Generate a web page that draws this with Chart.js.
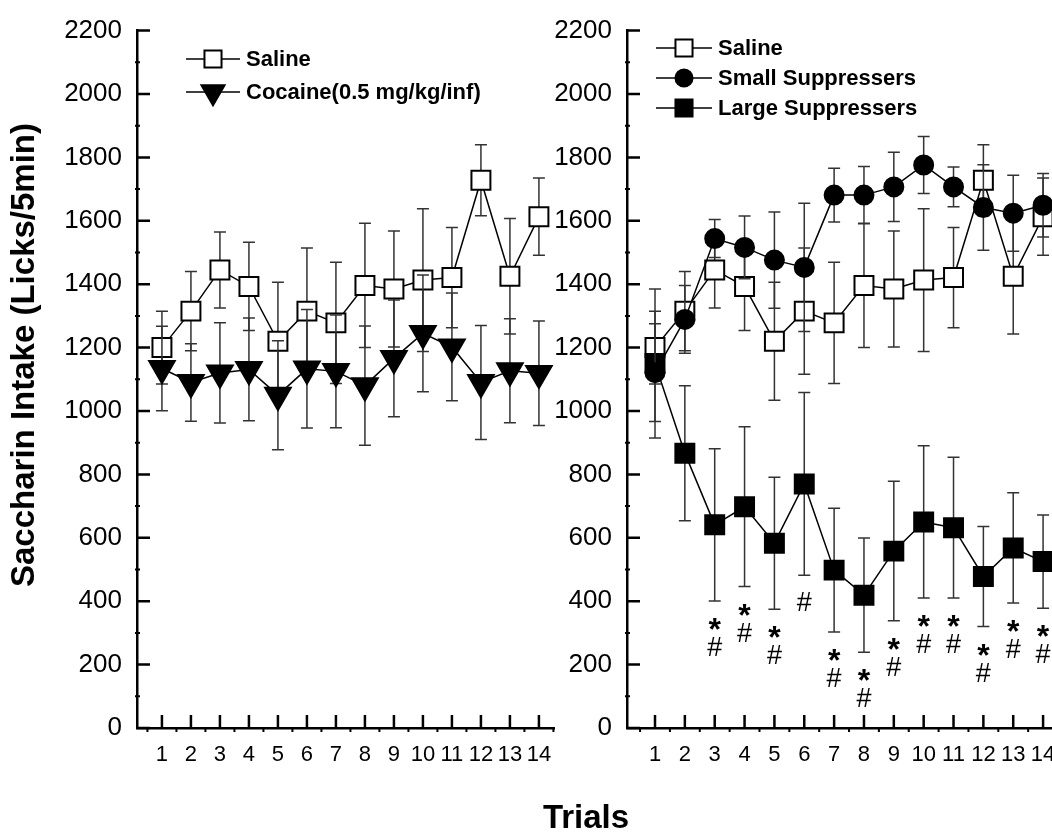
<!DOCTYPE html>
<html>
<head>
<meta charset="utf-8">
<script src="https://cdn.jsdelivr.net/npm/chart.js@4.4.0/dist/chart.umd.min.js"></script>
<style>
  html, body { margin:0; padding:0; background:#fff; width:1052px; height:832px; overflow:hidden; position:relative; font-family:"Liberation Sans", Arial, sans-serif; }
  .panel { position:absolute; top:0; }
  #left { left:0; }
  #right { left:490px; }
  #ytitle { position:absolute; left:23px; top:355px; transform:translate(-50%,-50%) rotate(-90deg); font-weight:bold; font-size:33px; white-space:nowrap; }
  #xtitle { position:absolute; left:586px; top:817px; transform:translate(-50%,-50%); font-weight:bold; font-size:33px; white-space:nowrap; }
</style>
</head>
<body>
<canvas id="left" class="panel" width="570" height="832"></canvas>
<canvas id="right" class="panel" width="590" height="832"></canvas>
<div id="ytitle">Saccharin Intake (Licks/5min)</div>
<div id="xtitle">Trials</div>
<script>
const trials = [1, 2, 3, 4, 5, 6, 7, 8, 9, 10, 11, 12, 13, 14];
const yTicks = [0, 200, 400, 600, 800, 1000, 1200, 1400, 1600, 1800, 2000, 2200];

const salineMean = [1200, 1315, 1445, 1393, 1220, 1315, 1278, 1396, 1385, 1413, 1421, 1728, 1425, 1613];
const salineSem = [115, 125, 120, 139, 186, 199, 191, 196, 183, 225, 158, 112, 182, 122];
const cocaineMean = [1134, 1090, 1120, 1131, 1050, 1133, 1125, 1080, 1166, 1245, 1202, 1090, 1127, 1119];
const cocaineSem = [133, 122, 158, 162, 172, 187, 178, 188, 184, 184, 170, 180, 164, 165];

const smallMean = [1121, 1289, 1544, 1516, 1476, 1453, 1681, 1681, 1707, 1776, 1707, 1642, 1624, 1649];
const smallSem = [154, 107, 60, 99, 152, 202, 85, 90, 109, 90, 63, 135, 120, 100];
const largeMean = [1150, 867, 641, 698, 583, 770, 498, 419, 558, 650, 632, 478, 568, 525];
const largeSem = [235, 213, 240, 252, 208, 288, 195, 180, 220, 240, 222, 158, 174, 147];
// significance marks under the large suppressers
const sigMarks = ['', '', '*#', '*#', '*#', '#', '*#', '*#', '*#', '*#', '*#', '*#', '*#', '*#'];

const FONT = 'Liberation Sans';

function pts(vals) {
  return trials.map((t, i) => ({x: t, y: vals[i]}));
}

// error bars, drawn just before each dataset so markers sit on top
const errorBars = {
  id: 'errorBars',
  beforeDatasetDraw(chart, args) {
    const ds = chart.data.datasets[args.index];
    if (!ds.sem) return;
    const {x, y} = chart.scales;
    const ctx = chart.ctx;
    ctx.save();
    ctx.strokeStyle = '#333';
    ctx.lineWidth = 1.5;
    ds.data.forEach((p, i) => {
      const px = x.getPixelForValue(p.x);
      const top = y.getPixelForValue(p.y + ds.sem[i]);
      const bot = y.getPixelForValue(p.y - ds.sem[i]);
      ctx.beginPath();
      ctx.moveTo(px, top); ctx.lineTo(px, bot);
      ctx.moveTo(px - 6, top); ctx.lineTo(px + 6, top);
      ctx.moveTo(px - 6, bot); ctx.lineTo(px + 6, bot);
      ctx.stroke();
    });
    ctx.restore();
  }
};

// tick marks pointing into the plot, plus minor ticks
const innerTicks = {
  id: 'innerTicks',
  afterDraw(chart) {
    const {x, y} = chart.scales;
    const area = chart.chartArea;
    const ctx = chart.ctx;
    ctx.save();
    ctx.strokeStyle = '#000';
    ctx.lineWidth = 2.5;
    ctx.beginPath();
    x.ticks.forEach(t => {
      const px = x.getPixelForValue(t.value);
      ctx.moveTo(px, area.bottom); ctx.lineTo(px, area.bottom - 13);
    });
    y.ticks.forEach(t => {
      const py = y.getPixelForValue(t.value);
      ctx.moveTo(area.left, py); ctx.lineTo(area.left + 13, py);
    });
    ctx.stroke();
    ctx.lineWidth = 2;
    ctx.beginPath();
    x.ticks.forEach(t => {
      [t.value - 0.5, t.value + 0.5].forEach(v => {
        if (v < x.min || v > x.max) return;
        const px = x.getPixelForValue(v);
        ctx.moveTo(px, area.bottom); ctx.lineTo(px, area.bottom + 4);
      });
    });
    y.ticks.forEach(t => {
      const v = t.value + 100;
      if (v > y.max) return;
      const py = y.getPixelForValue(v);
      ctx.moveTo(area.left - 2, py); ctx.lineTo(area.left + 3, py);
    });
    ctx.stroke();
    ctx.restore();
  }
};

// legend drawn at a fixed spot inside the plot
const sideLegend = {
  id: 'sideLegend',
  afterDraw(chart, args, opts) {
    if (opts.x === undefined) return;
    const ctx = chart.ctx;
    ctx.save();
    chart.data.datasets.forEach((ds, i) => {
      const yy = opts.y + i * opts.dy;
      ctx.strokeStyle = '#000';
      ctx.lineWidth = 1.5;
      ctx.beginPath();
      ctx.moveTo(opts.x, yy); ctx.lineTo(opts.x + opts.len, yy);
      ctx.stroke();
      ctx.fillStyle = ds.pointBackgroundColor;
      ctx.lineWidth = ds.pointBorderWidth;
      Chart.helpers.drawPoint(ctx, {
        pointStyle: ds.pointStyle, rotation: ds.pointRotation || 0,
        radius: ds.pointRadius * 0.9, borderWidth: ds.pointBorderWidth
      }, opts.x + opts.len / 2, yy);
      ctx.fillStyle = '#000';
      ctx.font = 'bold 22px ' + FONT;
      ctx.textBaseline = 'middle';
      ctx.textAlign = 'left';
      ctx.fillText(ds.label, opts.x + opts.len + 6, yy + 1);
    });
    ctx.restore();
  }
};

function scalesFor(xmin, xmax) {
  return {
    x: {
      type: 'linear', min: xmin, max: xmax,
      afterBuildTicks: s => { s.ticks = trials.map(v => ({value: v})); },
      afterFit: s => { s.height = 104; },
      grid: {display: false, drawTicks: false},
      border: {display: true, color: '#000', width: 2.5},
      ticks: {color: '#000', font: {family: FONT, size: 22}, padding: 14, maxRotation: 0, autoSkip: false,
        callback: v => String(v)}
    },
    y: {
      min: 0, max: 2200,
      afterBuildTicks: s => { s.ticks = yTicks.map(v => ({value: v})); },
      afterFit: s => { s.width = 137; },
      grid: {display: false, drawTicks: false},
      border: {display: true, color: '#000', width: 2.5},
      ticks: {color: '#000', font: {family: FONT, size: 26}, padding: 15, callback: v => String(v)}
    }
  };
}

function lineSet(label, vals, sem, style, fill, radius, order, rotation) {
  return {
    label: label,
    data: pts(vals),
    sem: sem,
    borderColor: '#000',
    borderWidth: 1.5,
    pointStyle: style,
    pointRotation: rotation || 0,
    pointRadius: radius,
    pointBackgroundColor: fill,
    pointBorderColor: '#000',
    pointBorderWidth: 2,
    order: order,
    clip: false,
    tension: 0
  };
}

new Chart(document.getElementById('left'), {
  type: 'line',
  data: {
    datasets: [
      lineSet('Saline', salineMean, salineSem, 'rect', '#fff', 13.4, 2),
      lineSet('Cocaine(0.5 mg/kg/inf)', cocaineMean, cocaineSem, 'triangle', '#000', 14.8, 1, 180)
    ]
  },
  options: {
    responsive: false,
    animation: false,
    layout: {padding: {top: 27, right: 16, bottom: 0, left: 0}, autoPadding: false},
    scales: scalesFor(0.14, 14.52),
    plugins: {
      legend: {display: false},
      tooltip: {enabled: false},
      sideLegend: {x: 186, y: 59, dy: 33, len: 54}
    }
  },
  plugins: [errorBars, innerTicks, sideLegend]
});

const sigPlugin = {
  id: 'sigPlugin',
  afterDatasetsDraw(chart) {
    const ds = chart.data.datasets[2];
    const {x, y} = chart.scales;
    const ctx = chart.ctx;
    ctx.save();
    ctx.fillStyle = '#000';
    ctx.textAlign = 'center';
    ctx.textBaseline = 'alphabetic';
    sigMarks.forEach((m, i) => {
      if (!m) return;
      const px = x.getPixelForValue(ds.data[i].x);
      let py = y.getPixelForValue(ds.data[i].y - ds.sem[i]) + (m[0] === '#' ? 26 : 20);
      m.split('').forEach(ch => {
        if (ch === '*') {
          ctx.font = 'bold 32px ' + FONT;
          ctx.fillText('*', px, py + 19);
        } else {
          ctx.font = '27px ' + FONT;
          ctx.fillText('#', px, py + 10);
        }
        py += 25;
      });
    });
    ctx.restore();
  }
};

new Chart(document.getElementById('right'), {
  type: 'line',
  data: {
    datasets: [
      lineSet('Saline', salineMean, salineSem, 'rect', '#fff', 13.4, 3),
      lineSet('Small Suppressers', smallMean, smallSem, 'circle', '#000', 9.5, 1),
      lineSet('Large Suppressers', largeMean, largeSem, 'rect', '#000', 13.4, 2)
    ]
  },
  options: {
    responsive: false,
    animation: false,
    layout: {padding: {top: 27, right: 20.5, bottom: 0, left: 0}, autoPadding: false},
    scales: scalesFor(0.062, 14.55),
    plugins: {
      legend: {display: false},
      tooltip: {enabled: false},
      sideLegend: {x: 166, y: 48, dy: 30, len: 56}
    }
  },
  plugins: [errorBars, innerTicks, sideLegend, sigPlugin]
});
</script>
</body>
</html>
